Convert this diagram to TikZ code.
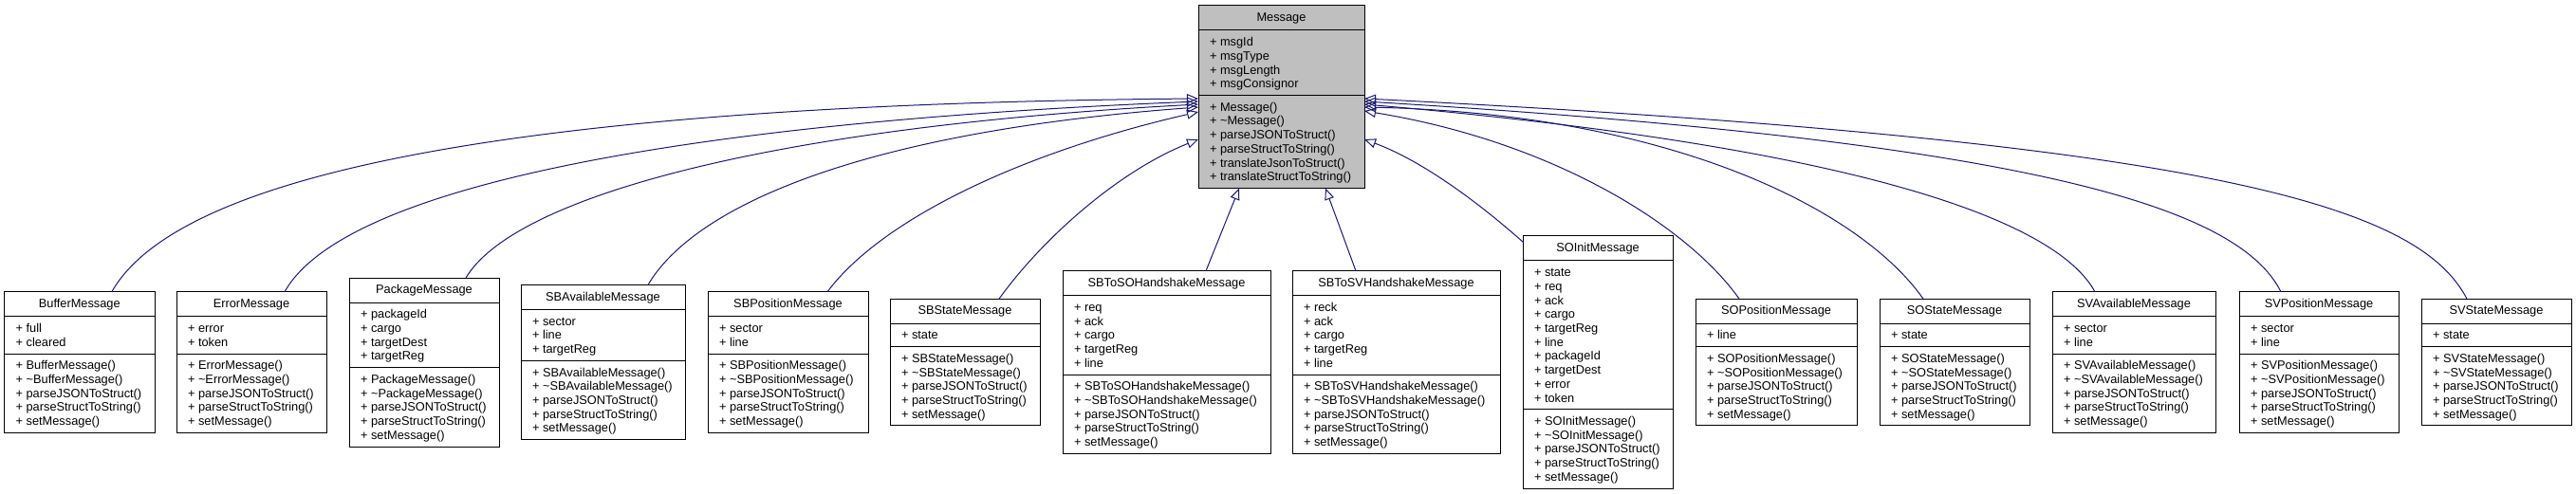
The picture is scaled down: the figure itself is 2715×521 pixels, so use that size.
\documentclass[tikz,border=0pt]{standalone}
\usepackage{fontspec}
\setmainfont{Liberation Sans}
\usetikzlibrary{arrows.meta}
\definecolor{edgeblue}{HTML}{191970}
\definecolor{msggray}{HTML}{BFBFBF}
\newcommand\lstrut{\rule[-2.9pt]{0pt}{14.7pt}}
\newcommand\nl{\\\lstrut}
\newcommand\tld{\textasciitilde}
\newcommand\stdm[1]{\lstrut + #1()\nl + \tld#1()\nl + parseJSONToStruct()\nl + parseStructToString()\nl + setMessage()}
\tikzset{
  clsbox/.style={draw=black, line width=1pt, fill=white, inner sep=0pt, outer sep=0pt, rectangle},
  sepline/.style={draw=black, line width=1pt},
  clstxt/.style={inner sep=0pt, outer sep=0pt, align=left, font=\fontsize{12.8}{14.7}\selectfont},
  clstitle/.style={inner sep=0pt, outer sep=0pt, font=\fontsize{12.8}{14.7}\selectfont},
  inherit/.style={draw=edgeblue, line width=1pt, -{Triangle[open, length=12pt, width=10pt, line width=1pt]}},
}
% #1 name, #2 left, #3 top, #4 width, #5 nA, #6 nM, #7 title, #8 attrs, #9 methods
\newcommand\classbox[9]{%
  \pgfmathsetmacro\hA{#5*14.7+9.8}%
  \pgfmathsetmacro\hM{#6*14.7+9.8}%
  \pgfmathsetmacro\hT{26+\hA+\hM}%
  \pgfmathsetmacro\dB{26+\hA}%
  \pgfmathsetmacro\dC{26+\hA+4.9}%
  \node[clsbox, anchor=north west, minimum width=#4pt, minimum height=\hT pt] (#1) at (#2,#3) {};
  \draw[sepline] ([yshift=-26pt]#1.north west) -- ([yshift=-26pt]#1.north east);
  \draw[sepline] ([yshift=-\dB pt]#1.north west) -- ([yshift=-\dB pt]#1.north east);
  \node[clstitle, anchor=base] (#1-t) at ([yshift=-16.6pt]#1.north) {#7};
  \node[clstxt, anchor=north west] (#1-a) at ([xshift=12pt, yshift=-30.9pt]#1.north west) {#8};
  \node[clstxt, anchor=north west] (#1-m) at ([xshift=12pt, yshift=-\dC pt]#1.north west) {#9};
}
\begin{document}
\begin{tikzpicture}[x=1pt, y=-1pt]
\useasboundingbox (0,0) rectangle (2715,521);

\begin{scope}[clsbox/.append style={fill=msggray}]
\classbox{msg}{1263}{6}{175}{4}{6}{Message}
  {\lstrut + msgId\nl + msgType\nl + msgLength\nl + msgConsignor}
  {\lstrut + Message()\nl + \tld Message()\nl + parseJSONToStruct()\nl + parseStructToString()\nl + translateJsonToStruct()\nl + translateStructToString()}
\end{scope}

\classbox{buf}{4.6}{307.8}{158.4}{2}{5}{BufferMessage}{\lstrut + full\nl + cleared}{\stdm{BufferMessage}}
\classbox{err}{186}{307.8}{158}{2}{5}{ErrorMessage}{\lstrut + error\nl + token}{\stdm{ErrorMessage}}
\classbox{pkg}{368}{293.1}{158}{4}{5}{PackageMessage}{\lstrut + packageId\nl + cargo\nl + targetDest\nl + targetReg}{\stdm{PackageMessage}}
\classbox{sba}{549}{300.45}{173}{3}{5}{SBAvailableMessage}{\lstrut + sector\nl + line\nl + targetReg}{\stdm{SBAvailableMessage}}
\classbox{sbp}{746}{307.8}{169}{2}{5}{SBPositionMessage}{\lstrut + sector\nl + line}{\stdm{SBPositionMessage}}
\classbox{sbs}{938}{315.15}{158}{1}{5}{SBStateMessage}{\lstrut + state}{\stdm{SBStateMessage}}
\classbox{sbso}{1120}{285.75}{219}{5}{5}{SBToSOHandshakeMessage}{\lstrut + req\nl + ack\nl + cargo\nl + targetReg\nl + line}{\stdm{SBToSOHandshakeMessage}}
\classbox{sbsv}{1362}{285.75}{219}{5}{5}{SBToSVHandshakeMessage}{\lstrut + reck\nl + ack\nl + cargo\nl + targetReg\nl + line}{\stdm{SBToSVHandshakeMessage}}
\classbox{soi}{1605}{249}{158}{10}{5}{SOInitMessage}{\lstrut + state\nl + req\nl + ack\nl + cargo\nl + targetReg\nl + line\nl + packageId\nl + targetDest\nl + error\nl + token}{\stdm{SOInitMessage}}
\classbox{sop}{1787}{315.15}{170}{1}{5}{SOPositionMessage}{\lstrut + line}{\stdm{SOPositionMessage}}
\classbox{sos}{1981}{315.15}{158}{1}{5}{SOStateMessage}{\lstrut + state}{\stdm{SOStateMessage}}
\classbox{sva}{2163}{307.8}{172}{2}{5}{SVAvailableMessage}{\lstrut + sector\nl + line}{\stdm{SVAvailableMessage}}
\classbox{svp}{2360}{307.8}{168}{2}{5}{SVPositionMessage}{\lstrut + sector\nl + line}{\stdm{SVPositionMessage}}
\classbox{svs}{2552}{315.15}{158}{1}{5}{SVStateMessage}{\lstrut + state}{\stdm{SVStateMessage}}

% inheritance edges
\draw[inherit] ([xshift=34pt]buf.north) .. controls (190,180) and (560,110) .. ([yshift=-98pt]msg.north west);
\draw[inherit] ([xshift=35pt]err.north) .. controls (360,200) and (700,130) .. ([yshift=-101pt]msg.north west);
\draw[inherit] ([xshift=44pt]pkg.north) .. controls (540,210) and (800,135) .. ([yshift=-104pt]msg.north west);
\draw[inherit] ([xshift=47.5pt]sba.north) .. controls (730,220) and (900,140) .. ([yshift=-107pt]msg.north west);
\draw[inherit] ([xshift=41.5pt]sbp.north) .. controls (930,230) and (1080,160) .. ([yshift=-112pt]msg.north west);
\draw[inherit] ([xshift=36pt]sbs.north) .. controls (1100,250) and (1180,180) .. ([yshift=-141pt]msg.north west);
\draw[inherit] ([xshift=41.5pt]sbso.north) -- ([xshift=43pt]msg.south west);
\draw[inherit] ([xshift=-42.5pt]sbsv.north) -- ([xshift=134pt]msg.south west);
\draw[inherit] ([xshift=1pt, yshift=-7pt]soi.north west) .. controls (1560,215) and (1500,170) .. ([yshift=-141pt]msg.north east);
\draw[inherit] ([xshift=-39pt]sop.north) .. controls (1780,240) and (1640,150) .. ([yshift=-111pt]msg.north east);
\draw[inherit] ([xshift=-33pt]sos.north) .. controls (1960,220) and (1760,120) .. ([yshift=-107pt]msg.north east);
\draw[inherit] ([xshift=-41pt]sva.north) .. controls (2160,220) and (1900,150) .. ([yshift=-104pt]msg.north east);
\draw[inherit] ([xshift=-40pt]svp.north) .. controls (2360,220) and (2150,150) .. ([yshift=-101pt]msg.north east);
\draw[inherit] ([xshift=-31pt]svs.north) .. controls (2550,220) and (2350,150) .. ([yshift=-98pt]msg.north east);
\end{tikzpicture}
\end{document}
